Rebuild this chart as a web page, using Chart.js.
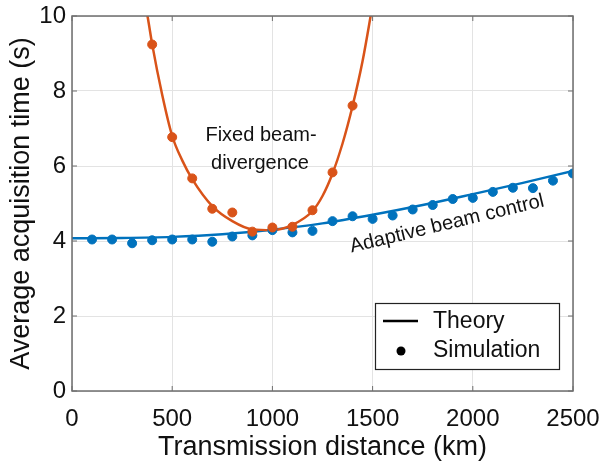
<!DOCTYPE html>
<html>
<head>
<meta charset="utf-8">
<script src="https://cdn.jsdelivr.net/npm/chart.js@4.4.0/dist/chart.umd.min.js"></script>
<style>
  html, body { margin: 0; padding: 0; background: #fff; }
  #wrap { width: 600px; height: 467px; }
</style>
</head>
<body>
<div id="wrap"><canvas id="acq" width="600" height="467"></canvas></div>
<script>
// Simulation points (km / s)
const simDistance = [100, 200, 300, 400, 500, 600, 700, 800, 900, 1000, 1100, 1200, 1300,
  1400, 1500, 1600, 1700, 1800, 1900, 2000, 2100, 2200, 2300, 2400, 2500]
const adaptiveSim = [4.04, 4.04, 3.94, 4.02, 4.04, 4.04, 3.98, 4.12, 4.15, 4.29, 4.23, 4.27, 4.53,
  4.66, 4.59, 4.68, 4.84, 4.96, 5.12, 5.15, 5.31, 5.42, 5.41, 5.61, 5.8]
const fixedSimDistance = [400, 500, 600, 700, 800, 900, 1000, 1100, 1200, 1300, 1400]
const fixedSim = [9.24, 6.77, 5.67, 4.86, 4.76, 4.25, 4.36, 4.38, 4.82, 5.83, 7.61]

// Theory curves
const adaptiveTheoryDistance = [0, 250, 500, 750, 1000, 1250, 1500, 1750, 2000, 2250, 2500]
const adaptiveTheory = [4.07, 4.08, 4.11, 4.18, 4.3, 4.47, 4.7, 4.96, 5.25, 5.55, 5.87]
const fixedTheoryDistance = [360, 380, 400, 450, 500, 550, 600, 700, 800, 900, 1000, 1100,
  1200, 1250, 1300, 1350, 1400, 1450, 1500, 1520]
const fixedTheory = [10.5, 9.9, 9.25, 7.9, 6.8, 6.15, 5.65, 4.93, 4.53, 4.31, 4.29, 4.43,
  4.8, 5.2, 5.8, 6.6, 7.6, 8.8, 10.3, 10.9]

const xTicks = [0, 500, 1000, 1500, 2000, 2500]
const yTicks = [0, 2, 4, 6, 8, 10]

const BLUE = '#0072BD'
const ORANGE = '#D95319'
const FONT = "'Liberation Sans', Arial, sans-serif"

const pts = (xs, ys) => xs.map((x, i) => ({ x: x, y: ys[i] }))

// caja, ticks hacia dentro, leyenda y anotaciones
const matlabAxes = {
  id: 'matlabAxes',
  afterDatasetsDraw(chart) {
    const { ctx, chartArea: a, scales } = chart
    ctx.save()

    ctx.fillStyle = '#111'
    ctx.font = '20px ' + FONT
    ctx.textAlign = 'center'
    ctx.textBaseline = 'middle'
    ctx.fillText('Fixed beam-', 261, 135)
    ctx.fillText('divergence', 260, 163)

    ctx.save()
    ctx.translate(447, 224)
    ctx.rotate(-13.5 * Math.PI / 180)
    ctx.fillText('Adaptive beam control', 0, 0)
    ctx.restore()

    // marco
    ctx.strokeStyle = '#6e6e6e'
    ctx.lineWidth = 1.5
    ctx.strokeRect(a.left, a.top, a.right - a.left, a.bottom - a.top)
    ctx.lineWidth = 1
    xTicks.forEach(v => {
      const x = scales.x.getPixelForValue(v)
      ctx.beginPath()
      ctx.moveTo(x, a.bottom); ctx.lineTo(x, a.bottom - 5)
      ctx.moveTo(x, a.top); ctx.lineTo(x, a.top + 5)
      ctx.stroke()
    })
    yTicks.forEach(v => {
      const y = scales.y.getPixelForValue(v)
      ctx.beginPath()
      ctx.moveTo(a.left, y); ctx.lineTo(a.left + 5, y)
      ctx.moveTo(a.right, y); ctx.lineTo(a.right - 5, y)
      ctx.stroke()
    })

    // leyenda
    ctx.fillStyle = '#fff'
    ctx.fillRect(375, 303, 184, 66)
    ctx.strokeStyle = '#222'
    ctx.lineWidth = 1.2
    ctx.strokeRect(375.5, 303.5, 184, 66)
    ctx.strokeStyle = '#000'
    ctx.lineWidth = 2.5
    ctx.beginPath()
    ctx.moveTo(383, 321); ctx.lineTo(418, 321)
    ctx.stroke()
    ctx.fillStyle = '#000'
    ctx.beginPath()
    ctx.arc(401, 351, 4.5, 0, Math.PI * 2)
    ctx.fill()
    ctx.font = '23px ' + FONT
    ctx.textAlign = 'left'
    ctx.fillStyle = '#111'
    ctx.fillText('Theory', 433, 322)
    ctx.fillText('Simulation', 433, 351)

    ctx.restore()
  }
}

new Chart(document.getElementById('acq'), {
  type: 'scatter',
  data: {
    datasets: [
      {
        label: 'Fixed beam-divergence (simulation)',
        data: pts(fixedSimDistance, fixedSim),
        backgroundColor: ORANGE,
        borderColor: ORANGE,
        pointRadius: 4.5,
        showLine: false,
        order: 0
      },
      {
        label: 'Adaptive beam control (simulation)',
        data: pts(simDistance, adaptiveSim),
        backgroundColor: BLUE,
        borderColor: BLUE,
        pointRadius: 4.5,
        showLine: false,
        order: 0
      },
      {
        label: 'Fixed beam-divergence (theory)',
        data: pts(fixedTheoryDistance, fixedTheory),
        borderColor: ORANGE,
        borderWidth: 2.5,
        pointRadius: 0,
        showLine: true,
        cubicInterpolationMode: 'monotone',
        order: 1
      },
      {
        label: 'Adaptive beam control (theory)',
        data: pts(adaptiveTheoryDistance, adaptiveTheory),
        borderColor: BLUE,
        borderWidth: 2.5,
        pointRadius: 0,
        showLine: true,
        cubicInterpolationMode: 'monotone',
        order: 1
      }
    ]
  },
  options: {
    responsive: false,
    animation: false,
    layout: { padding: { left: 0, right: 27, top: 16, bottom: 0 } },
    plugins: {
      legend: { display: false },
      tooltip: { enabled: false }
    },
    scales: {
      x: {
        type: 'linear',
        min: 0,
        max: 2500,
        afterFit: s => { s.height = 76; s.paddingLeft = 0; s.paddingRight = 0 },
        afterBuildTicks: s => { s.ticks = xTicks.map(v => ({ value: v })) },
        grid: { color: '#e3e3e3', drawTicks: false },
        border: { display: false },
        ticks: {
          color: '#111', padding: 14, maxRotation: 0,
          font: { family: FONT, size: 24 },
          callback: v => String(v)
        },
        title: {
          display: true,
          text: 'Transmission distance (km)',
          color: '#111',
          padding: { top: 0, bottom: 3 },
          font: { family: FONT, size: 27 }
        }
      },
      y: {
        min: 0,
        max: 10,
        afterFit: s => { s.width = 72; s.paddingTop = 0; s.paddingBottom = 0 },
        afterBuildTicks: s => { s.ticks = yTicks.map(v => ({ value: v })) },
        grid: { color: '#e3e3e3', drawTicks: false },
        border: { display: false },
        ticks: {
          color: '#111', padding: 6,
          font: { family: FONT, size: 24 },
          callback: v => String(v)
        },
        title: {
          display: true,
          text: 'Average acquisition time (s)',
          color: '#111',
          padding: { top: 5, bottom: 0 },
          font: { family: FONT, size: 27 }
        }
      }
    }
  },
  plugins: [matlabAxes]
})
</script>
</body>
</html>
